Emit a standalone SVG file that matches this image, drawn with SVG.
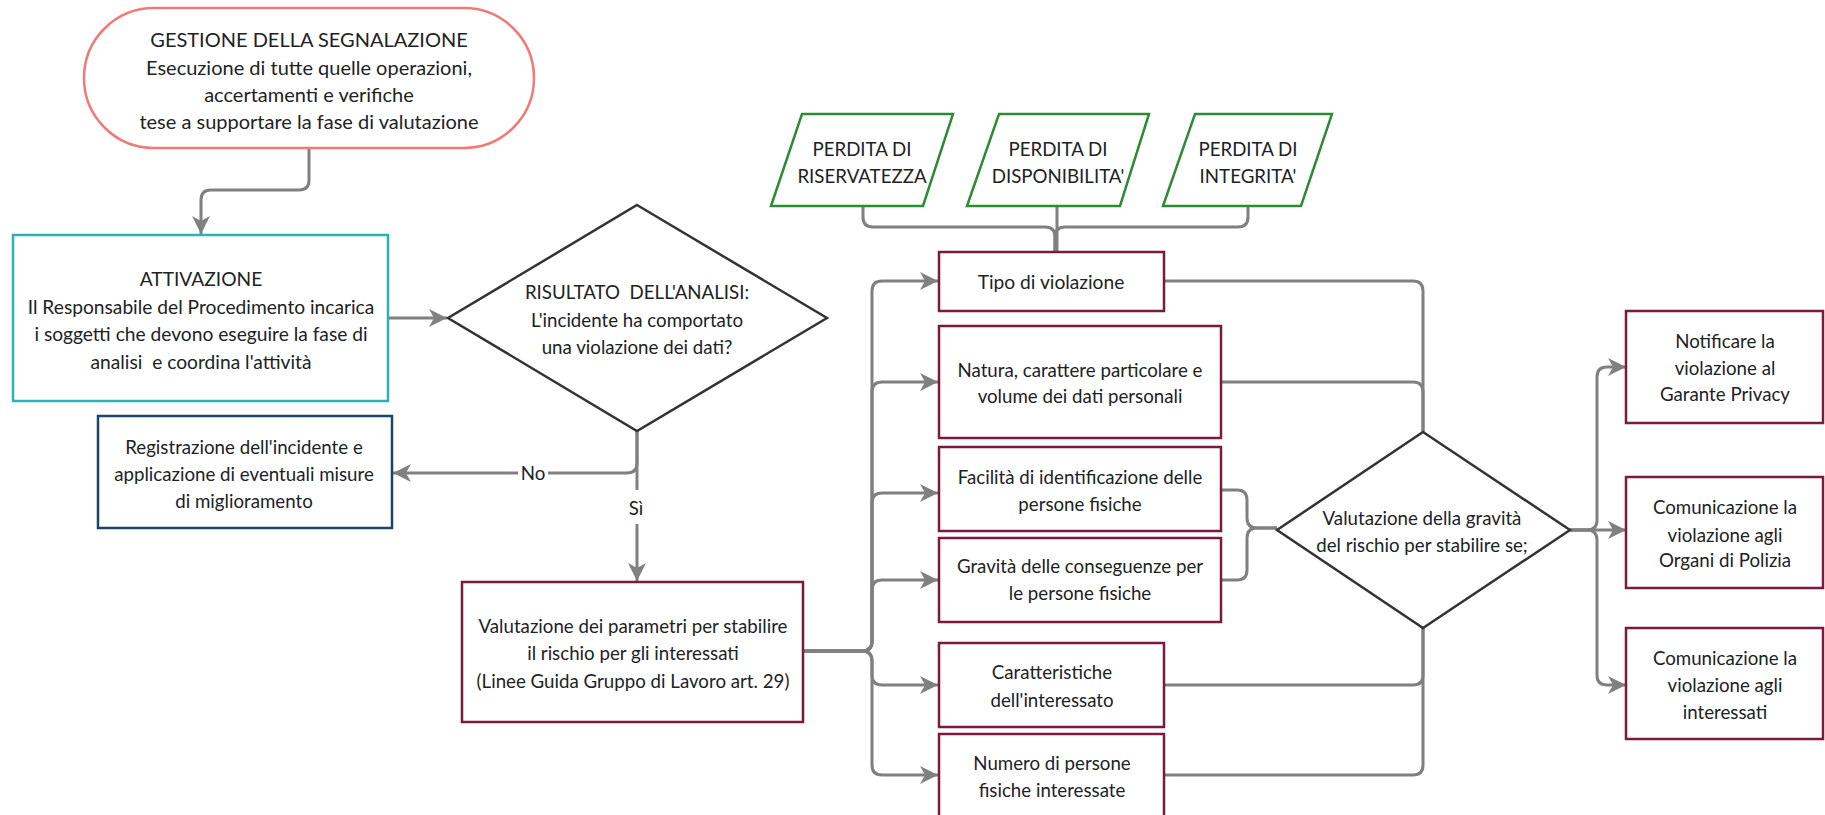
<svg xmlns="http://www.w3.org/2000/svg" width="1825" height="815" viewBox="0 0 1825 815">
<style>
text{font-family:Lato,"Open Sans","Liberation Sans",sans-serif;font-size:18.7px;fill:#222;text-anchor:middle;dominant-baseline:central}
.big text{font-size:20px}
.mid text{font-size:19.2px}
.box{fill:#fff;stroke-width:2.5}
.mar{stroke:#7a1a3c}
.grn{stroke:#2e8b34}
.dia{fill:#fff;stroke:#333;stroke-width:2.5}
.c{fill:none;stroke:#808080;stroke-width:3}
.a{marker-end:url(#ah)}
</style>
<defs>
<marker id="ah" markerUnits="userSpaceOnUse" markerWidth="20" markerHeight="18" refX="18" refY="9" orient="auto">
<path d="M0,0 L18,9 L0,18 L5,9 z" fill="#808080"/>
</marker>
</defs>
<g id="connectors">
<path class="c a" d="M309,148 V180 Q309,190 299,190 H211 Q201,190 201,200 V234"/>
<path class="c a" d="M388,318 H447"/>
<path class="c a" d="M637,431 V463 Q637,473 627,473 H393"/>
<path class="c a" d="M637,431 V581"/>
<path class="c a" d="M803,651 H862 Q872,651 872,641 V291 Q872,281 882,281 H938"/>
<path class="c a" d="M803,651 H862 Q872,651 872,641 V392 Q872,382 882,382 H938"/>
<path class="c a" d="M803,651 H862 Q872,651 872,641 V503 Q872,493 882,493 H938"/>
<path class="c a" d="M803,651 H862 Q872,651 872,641 V590 Q872,580 882,580 H938"/>
<path class="c a" d="M803,651 H862 Q872,651 872,661 V675 Q872,685 882,685 H938"/>
<path class="c a" d="M803,651 H862 Q872,651 872,661 V765 Q872,775 882,775 H938"/>
<path class="c" d="M863,206 V217 Q863,227 873,227 H1045 Q1055,227 1055,237 V252"/>
<path class="c" d="M1248,206 V217 Q1248,227 1238,227 H1065 Q1055,227 1055,237 V252"/>
<path class="c" d="M1057,206 V252"/>
<path class="c" d="M1164,281 H1413 Q1423,281 1423,291 V432"/>
<path class="c" d="M1221,382 H1413 Q1423,382 1423,392 V432"/>
<path class="c" d="M1221,490 H1237 Q1247,490 1247,500 V518 Q1247,528 1257,528 H1277"/>
<path class="c" d="M1221,580 H1237 Q1247,580 1247,570 V538 Q1247,528 1257,528 H1277"/>
<path class="c" d="M1164,685 H1413 Q1423,685 1423,675 V626"/>
<path class="c" d="M1164,775 H1413 Q1423,775 1423,765 V626"/>
<path class="c a" d="M1570,530 H1587 Q1597,530 1597,520 V377 Q1597,367 1607,367 H1626"/>
<path class="c a" d="M1570,530 H1626"/>
<path class="c a" d="M1570,530 H1587 Q1597,530 1597,540 V675 Q1597,685 1607,685 H1626"/>
<rect x="518" y="462" width="30" height="22" fill="#fff"/>
<text x="533" y="473">No</text>
<rect x="622" y="490" width="28" height="34" fill="#fff"/>
<text x="636" y="508">Sì</text>
</g>
<g id="gestione" class="big">
<rect x="84" y="8" width="450" height="140" rx="70" fill="#fff" stroke="#f07a7a" stroke-width="2.5"/>
<text x="309" y="39">GESTIONE DELLA SEGNALAZIONE</text>
<text x="309" y="67">Esecuzione di tutte quelle operazioni,</text>
<text x="309" y="94">accertamenti e verifiche</text>
<text x="309" y="121">tese a supportare la fase di valutazione</text>
</g>
<g id="attivazione" class="mid">
<rect class="box" x="13" y="235" width="375" height="166" stroke="#2bb3b1"/>
<text x="201" y="278">ATTIVAZIONE</text>
<text x="201" y="306">Il Responsabile del Procedimento incarica</text>
<text x="201" y="333">i soggetti che devono eseguire la fase di</text>
<text x="201" y="361" xml:space="preserve">analisi  e coordina l'attività</text>
</g>
<g id="risultato">
<polygon class="dia" points="637,205 827,318 637,431 448,318"/>
<text x="637" y="292" xml:space="preserve">RISULTATO  DELL'ANALISI:</text>
<text x="637" y="320">L'incidente ha comportato</text>
<text x="637" y="347">una violazione dei dati?</text>
</g>
<g id="registrazione">
<rect class="box" x="98" y="416" width="294" height="112" stroke="#1b4466"/>
<text x="244" y="447">Registrazione dell'incidente e</text>
<text x="244" y="474">applicazione di eventuali misure</text>
<text x="244" y="501">di miglioramento</text>
</g>
<g id="valutazione">
<rect class="box mar" x="462" y="582" width="341" height="140"/>
<text x="633" y="626">Valutazione dei parametri per stabilire</text>
<text x="633" y="653">il rischio per gli interessati</text>
<text x="633" y="681">(Linee Guida Gruppo di Lavoro art. 29)</text>
</g>
<g id="riservatezza">
<polygon class="box grn" points="771,206 802,114 953,114 923,206"/>
<text x="862" y="149">PERDITA DI</text>
<text x="862" y="176">RISERVATEZZA</text>
</g>
<g id="disponibilita">
<polygon class="box grn" points="967,206 999,114 1149,114 1120,206"/>
<text x="1058" y="149">PERDITA DI</text>
<text x="1058" y="176">DISPONIBILITA'</text>
</g>
<g id="integrita">
<polygon class="box grn" points="1163,206 1195,114 1332,114 1301,206"/>
<text x="1248" y="149">PERDITA DI</text>
<text x="1248" y="176">INTEGRITA'</text>
</g>
<g id="tipo" class="mid">
<rect class="box mar" x="939" y="252" width="225" height="59"/>
<text x="1051" y="281">Tipo di violazione</text>
</g>
<g id="natura">
<rect class="box mar" x="939" y="326" width="282" height="112"/>
<text x="1080" y="370">Natura, carattere particolare e</text>
<text x="1080" y="396">volume dei dati personali</text>
</g>
<g id="facilita">
<rect class="box mar" x="939" y="447" width="282" height="84"/>
<text x="1080" y="477">Facilità di identificazione delle</text>
<text x="1080" y="504">persone fisiche</text>
</g>
<g id="gravita">
<rect class="box mar" x="939" y="538" width="282" height="84"/>
<text x="1080" y="566">Gravità delle conseguenze per</text>
<text x="1080" y="593">le persone fisiche</text>
</g>
<g id="caratteristiche">
<rect class="box mar" x="939" y="643" width="225" height="84"/>
<text x="1052" y="672">Caratteristiche</text>
<text x="1052" y="700">dell'interessato</text>
</g>
<g id="numero">
<rect class="box mar" x="939" y="734" width="225" height="84"/>
<text x="1052" y="763">Numero di persone</text>
<text x="1052" y="790">fisiche interessate</text>
</g>
<g id="gravita-rischio">
<polygon class="dia" points="1423,432 1570,530 1423,628 1277,530"/>
<text x="1422" y="518">Valutazione della gravità</text>
<text x="1422" y="545">del rischio per stabilire se;</text>
</g>
<g id="notificare">
<rect class="box mar" x="1626" y="311" width="197" height="112"/>
<text x="1725" y="341">Notificare la</text>
<text x="1725" y="368">violazione al</text>
<text x="1725" y="394">Garante Privacy</text>
</g>
<g id="polizia">
<rect class="box mar" x="1626" y="477" width="197" height="111"/>
<text x="1725" y="507">Comunicazione la</text>
<text x="1725" y="535">violazione agli</text>
<text x="1725" y="560">Organi di Polizia</text>
</g>
<g id="interessati">
<rect class="box mar" x="1626" y="628" width="197" height="111"/>
<text x="1725" y="658">Comunicazione la</text>
<text x="1725" y="685">violazione agli</text>
<text x="1725" y="712">interessati</text>
</g>
</svg>
